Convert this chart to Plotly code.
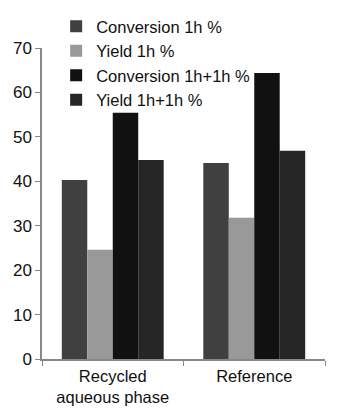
import plotly.graph_objects as go

categories = ["Recycled<br>aqueous phase", "Reference"]
series_names = ["Conversion 1h %", "Yield 1h %", "Conversion 1h+1h %", "Yield 1h+1h %"]
conv_1h = [40.3, 44.1]
yield_1h = [24.6, 31.8]
conv_2h = [55.4, 64.4]
yield_2h = [44.8, 46.9]
y_ticks = [0, 10, 20, 30, 40, 50, 60, 70]

colors = ["#404040", "#999999", "#111111", "#262626"]
values = [conv_1h, yield_1h, conv_2h, yield_2h]

fig = go.Figure()
for name, vals, c in zip(series_names, values, colors):
    fig.add_trace(go.Bar(x=categories, y=vals, name=name, marker=dict(color=c, line=dict(width=0))))

fig.update_layout(
    width=349, height=400,
    margin=dict(l=34, r=32, t=40, b=49, autoexpand=False),
    paper_bgcolor="white", plot_bgcolor="white",
    barmode="group", bargap=0.28, bargroupgap=0,
    font=dict(family="Liberation Sans, Arial, sans-serif", size=17, color="#111111"),
    legend=dict(x=0.05, y=1.125, xanchor="left", yanchor="top",
                font=dict(size=16.5), bgcolor="rgba(0,0,0,0)",
                itemwidth=30, tracegroupgap=0),
    showlegend=True,
)
fig.update_yaxes(range=[0, 70], tickvals=y_ticks, showgrid=False, showline=True,
                 linecolor="#888888", linewidth=1.5, ticks="outside", ticklen=5,
                 tickcolor="#888888", zeroline=False, ticklabelstandoff=0,
                 automargin=False)
fig.update_xaxes(showline=True, linecolor="#888888", linewidth=1.5, ticks="outside",
                 ticklen=5, tickcolor="#888888", tickson="boundaries",
                 ticklabelstandoff=1, tickfont=dict(size=16.5), automargin=False)
fig.write_html("out.html")
